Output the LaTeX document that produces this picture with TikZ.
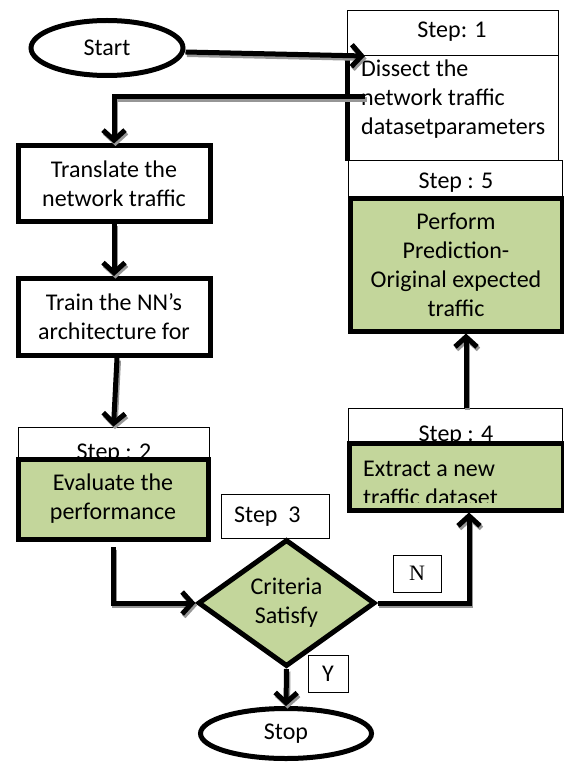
\documentclass[tikz,border=0pt]{standalone}
\usepackage{fontspec}
\setmainfont{Carlito}
\newfontfamily\serifN{Liberation Serif}
\usetikzlibrary{shapes.geometric,arrows.meta}
\definecolor{boxgreen}{RGB}{195,214,155}
\definecolor{shadowgray}{RGB}{150,150,150}
\begin{document}
\begin{tikzpicture}[x=1pt,y=-1pt,
  every node/.style={font=\fontsize{24}{29}\selectfont},
  thickbox/.style={draw,line width=5pt,rectangle,inner sep=0pt,align=center},
  thinbox/.style={draw,line width=0.9pt,rectangle,inner sep=0pt,fill=white},
  greenbox/.style={thickbox,fill=boxgreen},
  oval/.style={draw,ellipse,line width=5pt,inner sep=0pt,fill=white},
  arr/.style={line width=5pt,-{Straight Barb[length=10pt,width=22pt]},
    preaction={draw=shadowgray,line width=5pt,transform canvas={shift={(1.5pt,-2.5pt)}}}},
  txt/.style={inner sep=0pt,align=left}
]
\useasboundingbox (0,0) rectangle (564,762);

% Step 1
\node[thinbox,minimum width=211,minimum height=45,anchor=north west] (s1) at (347,10) {};
\node[inner sep=0pt] (s1t) at (452,32) {Step: 1};
\node[thinbox,minimum width=211,minimum height=105,anchor=north west] (dissect) at (347,55) {};
\draw[line width=5pt] (dissect.north west) -- (dissect.south west);
\node[txt,anchor=west] (dissectT) at (361,99) {Dissect the\\network traffic\\datasetparameters};

% Start
\node[oval,minimum width=152,minimum height=55] (start) at (107,48) {Start};

% Step 5
\node[thinbox,minimum width=214,minimum height=38,anchor=north west] (s5) at (348,160) {};
\node[inner sep=0pt] (s5t) at (456,183) {Step : 5};
\node[greenbox,minimum width=212,minimum height=133] (perform) at (456,264.5)
  {Perform\\Prediction-\\Original expected\\traffic};

% Translate / Train
\node[thickbox,minimum width=192,minimum height=75] (translate) at (114,183.5) {Translate the\\network traffic};
\node[thickbox,minimum width=192,minimum height=77] (train) at (114,317) {Train the NN’s\\architecture for};

% Step 2 / Evaluate
\node[thinbox,minimum width=191,minimum height=32] (s2) at (113.5,443) {};
\node[inner sep=0pt,anchor=base] (s2t) at (114,459) {Step : 2};
\node[greenbox,minimum width=190,minimum height=80] (eval) at (113,499) {Evaluate the\\performance};

% Step 3
\node[thinbox,minimum width=108,minimum height=44] (s3) at (275,516) {};
\node[inner sep=0pt,anchor=west] (s3t) at (234,517) {Step\ \ 3};

% Diamond
\node[draw,diamond,line width=5pt,fill=boxgreen,inner sep=0pt,
  minimum width=177,minimum height=127,align=center] (dia) at (286.5,603) {Criteria\\Satisfy};

% Step 4 / Extract
\node[thinbox,minimum width=214,minimum height=37] (s4) at (455,426.5) {};
\node[inner sep=0pt,anchor=base] (s4t) at (456,441) {Step : 4};
\node[greenbox,minimum width=214,minimum height=67] (extract) at (456.5,476.5) {};
\begin{scope}
  \clip (352,446) rectangle (560,502);
  \node[txt,anchor=west] (extractT) at (363,483) {Extract a new\\traffic dataset};
\end{scope}

% N and Y
\node[thinbox,minimum width=48,minimum height=37,font=\serifN\fontsize{22}{26}\selectfont] (nbox) at (417,573.5) {N};
\node[thinbox,minimum width=40,minimum height=37] (ybox) at (328,673.5) {Y};

% Stop
\node[oval,minimum width=171,minimum height=50] (stop) at (286,733.5) {Stop};

% connectors
\coordinate (a2) at (365,56);
\draw[arr] ([yshift=-4pt]start.east) -- (a2);
\coordinate (r1) at (365,97);
\draw[arr] (r1) -| (translate.north);
\draw[arr] (translate.south) -- (train.north);
\draw[arr] ([xshift=3pt]train.south) -- (s2.north);
\coordinate (e1) at (113,547);
\draw[arr] (e1) |- (dia.west);
\coordinate (n1) at (469,603);
\draw[arr] (dia.east) -- (n1) -- ([xshift=12.5pt]extract.south);
\draw[arr] ([xshift=11pt]s4.north) -- ([xshift=10pt]perform.south);
\draw[arr] (dia.south) -- (stop.north);
\end{tikzpicture}
\end{document}
